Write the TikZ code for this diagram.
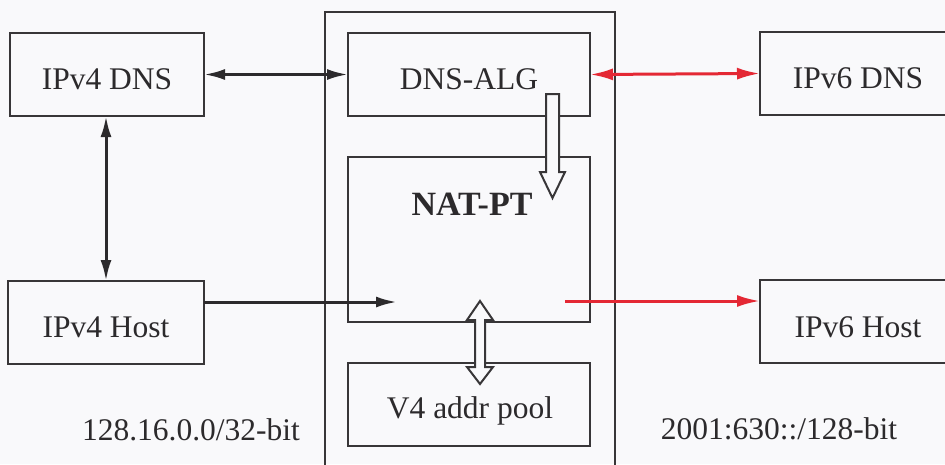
\documentclass[tikz,border=0pt]{standalone}
\usepackage{fontspec}
\setmainfont{Liberation Serif}
\usetikzlibrary{arrows.meta,calc}
\definecolor{bgc}{RGB}{249,249,251}
\definecolor{ink}{RGB}{44,42,44}
\definecolor{edge}{RGB}{56,54,56}
\definecolor{redc}{RGB}{228,40,52}
\tikzset{
  box/.style={draw=edge,line width=2pt,minimum width=#1,minimum height=83pt,inner sep=0pt,outer sep=0pt},
  lbl/.style={anchor=base,text=ink,inner sep=0pt,font=\fontsize{31.5}{36}\selectfont},
  blk/.style={draw=ink,line width=3pt,{Latex[length=21pt,width=11pt]}-{Latex[length=21pt,width=11pt]}},
  blkone/.style={draw=ink,line width=3pt,-{Latex[length=21pt,width=11pt]}},
  redd/.style={draw=redc,line width=3pt,{Latex[length=23pt,width=12pt]}-{Latex[length=23pt,width=12pt]}},
  redone/.style={draw=redc,line width=3pt,-{Latex[length=23pt,width=12pt]}},
  fat/.style={draw=edge,line width=2pt,fill=bgc,line join=miter}
}
\begin{document}
\begin{tikzpicture}[x=1pt,y=-1pt]
\fill[bgc] (0,0) rectangle (945,464);
\useasboundingbox (0,0) rectangle (945,464);
\clip (0,0) rectangle (945,464);
% outer NAT-PT device box (cut at bottom)
\node[draw=edge,line width=2pt,minimum width=290pt,minimum height=480pt,inner sep=0pt] (dev) at (470,252) {};
% boxes
\node[box=194pt] (v4dns) at (107,74.5) {};
\node[box=242pt] (alg) at (469,74.5) {};
\node[box=196pt] (v6dns) at (858,73.5) {};
\node[box=242pt,minimum height=165pt] (nat) at (469,239.5) {};
\node[box=242pt] (pool) at (469,404.5) {};
\node[box=196pt] (v4host) at (106,322.5) {};
\node[box=196pt] (v6host) at (858,321.5) {};
% labels
\node[lbl] (t1) at (107,89) {IPv4 DNS};
\node[lbl] (t2) at (469,89) {DNS-ALG};
\node[lbl] (t3) at (858,88) {IPv6 DNS};
\node[lbl,font=\fontsize{34}{40}\selectfont\bfseries] (t4) at (472,215) {NAT-PT};
\node[lbl] (t5) at (106,337) {IPv4 Host};
\node[lbl] (t6) at (858,337) {IPv6 Host};
\node[lbl] (t7) at (470,418) {V4 addr pool};
\node[lbl] (t8) at (191,440) {128.16.0.0/32-bit};
\node[lbl] (t9) at (779,439) {2001:630::/128-bit};
% connectors
\draw[blk] (v4dns.east) -- (alg.west);
\draw[redd] (alg.east) -- (v6dns.west);
\draw[blk] (v4host.north |- v4dns.south) -- (v4host.north);
\coordinate (natin) at (397,302);
\coordinate (natout) at (565,301);
\draw[blkone] (natin -| v4host.east) -- (natin);
\draw[redone] (natout) -- (natout -| v6host.west);
% white block arrow DNS-ALG -> NAT-PT
\draw[fat] (546,94) -- (559,94) -- (559,172) -- (565,172) -- (552.5,198) -- (540,172) -- (546,172) -- cycle;
% white double block arrow NAT-PT <-> V4 addr pool
\draw[fat] (480,301) -- (493,320) -- (485,320) -- (485,367) -- (493,367) -- (480,384) -- (467,367) -- (475,367) -- (475,320) -- (467,320) -- cycle;
\end{tikzpicture}
\end{document}
